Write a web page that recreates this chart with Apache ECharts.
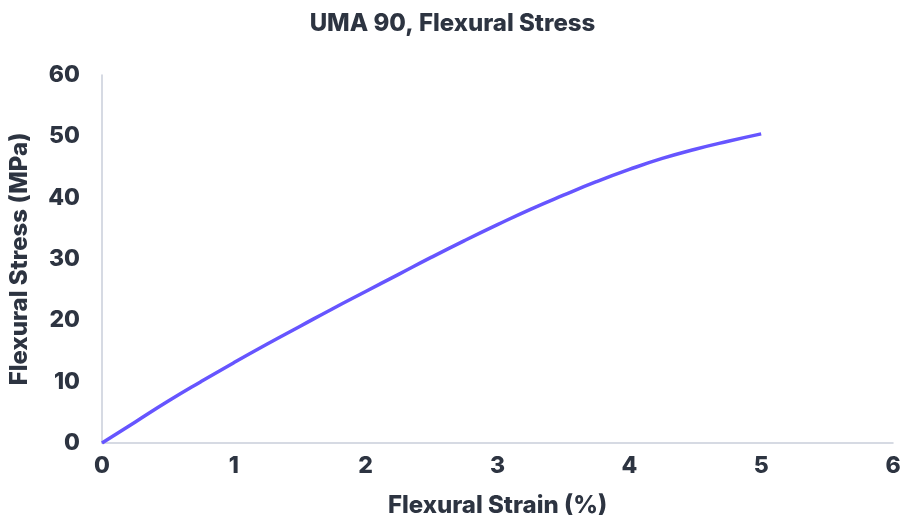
<!DOCTYPE html>
<html>
<head>
<meta charset="utf-8">
<script src="https://cdn.jsdelivr.net/npm/echarts@6/dist/echarts.min.js"></script>
<style>
html,body{margin:0;padding:0;background:#fff;}
#chart{width:905px;height:523px;}
</style>
</head>
<body>
<div id="chart"></div>
<script>
const strain = [0, 0.25, 0.5, 0.75, 1.0, 1.25, 1.5, 1.75, 2.0, 2.25, 2.5, 2.75, 3.0, 3.25, 3.5, 3.75, 4.0, 4.25, 4.5, 4.75, 5.0];
const stress = [0, 3.4, 6.8, 10.0, 13.1, 16.1, 19.0, 21.9, 24.7, 27.5, 30.3, 33.0, 35.6, 38.1, 40.4, 42.6, 44.6, 46.4, 47.9, 49.2, 50.4];

const textColor = '#2d3441';
const fontFamily = 'Inter, "Noto Sans", sans-serif';
const chart = echarts.init(document.getElementById('chart'));
chart.setOption({
  animation: false,
  backgroundColor: '#fff',
  title: {
    text: 'UMA 90, Flexural Stress',
    left: 'center',
    top: 7,
    textStyle: { color: textColor, fontFamily: fontFamily, fontWeight: 800, fontSize: 24 }
  },
  grid: { left: 102, right: 12, top: 75, bottom: 79, containLabel: false },
  xAxis: {
    type: 'value',
    min: 0, max: 6, interval: 1,
    name: 'Flexural Strain (%)',
    nameLocation: 'middle',
    nameGap: 51,
    nameTextStyle: { color: textColor, fontFamily: fontFamily, fontWeight: 800, fontSize: 24 },
    axisLine: { show: true, lineStyle: { color: '#c9ceda', width: 1.5 } },
    axisTick: { show: false },
    splitLine: { show: false },
    axisLabel: { color: textColor, fontFamily: fontFamily, fontWeight: 800, fontSize: 23, margin: 12 }
  },
  yAxis: {
    type: 'value',
    min: 0, max: 60, interval: 10,
    name: 'Flexural Stress (MPa)',
    nameLocation: 'middle',
    nameGap: 70,
    nameTextStyle: { color: textColor, fontFamily: fontFamily, fontWeight: 800, fontSize: 24 },
    axisLine: { show: true, lineStyle: { color: '#c9ceda', width: 1.5 } },
    axisTick: { show: false },
    splitLine: { show: false },
    axisLabel: { color: textColor, fontFamily: fontFamily, fontWeight: 800, fontSize: 23, margin: 22, padding: [0, 0, 8, 0] }
  },
  series: [{
    type: 'line',
    data: strain.map((x, i) => [x, stress[i]]),
    smooth: true,
    showSymbol: false,
    lineStyle: { color: '#6655ff', width: 3.5 },
    itemStyle: { color: '#6655ff' }
  }]
});
</script>
</body>
</html>
